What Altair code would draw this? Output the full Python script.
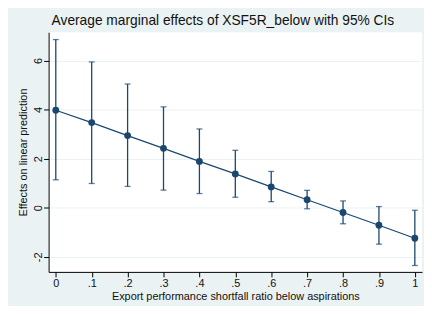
import altair as alt
import pandas as pd

xs = [0, 0.1, 0.2, 0.3, 0.4, 0.5, 0.6, 0.7, 0.8, 0.9, 1.0]
margins = [3.97, 3.47, 2.94, 2.42, 1.89, 1.38, 0.85, 0.33, -0.19, -0.71, -1.24]
ci_low = [1.14, 0.99, 0.87, 0.72, 0.58, 0.43, 0.25, -0.04, -0.65, -1.48, -2.35]
ci_high = [6.85, 5.94, 5.04, 4.11, 3.21, 2.34, 1.48, 0.71, 0.28, 0.05, -0.10]
x_ticks = [0, 0.1, 0.2, 0.3, 0.4, 0.5, 0.6, 0.7, 0.8, 0.9, 1.0]
y_ticks = [-2, 0, 2, 4, 6]

df = pd.DataFrame({"x": xs, "m": margins, "lo": ci_low, "hi": ci_high})

NAVY = "#1a476f"
FONT = "Liberation Sans"

xscale = alt.Scale(domain=[-0.02, 1.02], nice=False, zero=False)
yscale = alt.Scale(domain=[-2.61, 7.15], nice=False, zero=False)

xaxis = alt.Axis(
    values=x_ticks,
    labelExpr="replace(format(datum.value, '.1~f'), '0.', '.')",
    labelOverlap=False,
    labelFlush=False,
    title="Export performance shortfall ratio below aspirations",
    grid=False,
    tickSize=5,
    labelPadding=1,
    titlePadding=2,
)
yaxis = alt.Axis(
    values=y_ticks,
    labelExpr="toString(datum.value)",
    labelOverlap=False,
    labelFlush=False,
    title="Effects on linear prediction",
    grid=True,
    tickSize=5,
    labelAngle=270,
    labelAlign="center",
    labelBaseline="alphabetic",
    labelPadding=2,
    titleAngle=270,
    titleBaseline="middle",
    titleX=-25,
    titleY=121,
)

X = alt.X("x:Q", scale=xscale, axis=xaxis, title="Export performance shortfall ratio below aspirations")

base = alt.Chart(df)

bars = base.mark_errorbar(
    ticks={"size": 6, "thickness": 1.3}, color=NAVY, thickness=1.3
).encode(
    x=X,
    y=alt.Y("lo:Q", scale=yscale, axis=yaxis, title="Effects on linear prediction"),
    y2="hi:Q",
)

line = base.mark_line(color=NAVY, strokeWidth=1.2).encode(
    x=X,
    y=alt.Y("m:Q", scale=yscale, axis=yaxis, title="Effects on linear prediction"),
)

pts = base.mark_circle(color=NAVY, opacity=1, size=48).encode(
    x=X,
    y=alt.Y("m:Q", scale=yscale, axis=yaxis, title="Effects on linear prediction"),
)

chart = (
    alt.layer(bars, line, pts)
    .properties(
        width=377,
        height=242,
        autosize=alt.AutoSizeParams(type="none"),
        padding={"left": 41, "right": 2, "top": 23, "bottom": 33},
        background="#EAF2F3",
        title=alt.TitleParams(
            "Average marginal effects of XSF5R_below with 95% CIs",
            anchor="start",
            frame="group",
            dx=3,
            offset=4,
            fontSize=13.9,
            font=FONT,
            fontWeight="normal",
            color="#111",
        ),
    )
    .configure_view(fill="white", strokeWidth=0)
    .configure_axis(
        labelFont=FONT,
        titleFont=FONT,
        labelFontSize=11,
        titleFontSize=11,
        titleFontWeight="normal",
        labelColor="#111",
        titleColor="#111",
        domainColor="#000",
        domainWidth=1,
        tickColor="#000",
        tickWidth=1,
        gridColor="#EAF2F3",
        gridWidth=1,
    )
)

chart.save("out.html", embed_options={"renderer": "svg", "actions": False})
